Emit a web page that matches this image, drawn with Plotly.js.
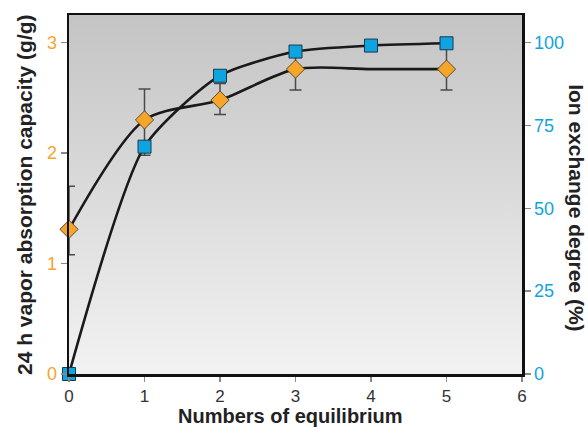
<!DOCTYPE html>
<html><head><meta charset="utf-8">
<script src="https://cdn.plot.ly/plotly-3.0.1.min.js"></script>
<style>html,body{margin:0;padding:0;background:#fff}#chart{width:588px;height:429px}</style>
</head><body><div id="chart"></div>
<script>
// Data
const cycles = [0, 1, 2, 3, 5];
const absorption = [1.31, 2.30, 2.48, 2.76, 2.76];      // g/g (left axis)
const absErrPlus = [0.39, 0.28, 0.15, 0.19, 0.19];
const absErrMinus = [0.23, 0.32, 0.13, 0.19, 0.19];
const curveCycles = [0, 1, 2, 3, 4, 5];
const absorptionCurve = [1.31, 2.30, 2.48, 2.76, 2.76, 2.76]; // fitted line through diamonds
const exchCycles = [0, 1, 2, 3, 4, 5];
const exchange = [0, 68.6, 90.0, 97.3, 99.1, 99.8];        // % (right axis)
const xTicks = [0, 1, 2, 3, 4, 5, 6];
const leftTicks = [0, 1, 2, 3];
const rightTicks = [0, 25, 50, 75, 100];

const orange = '#f5a52a', blue = '#0fa3e0';
const font = 'Liberation Sans, Arial, sans-serif';

const grad = 'data:image/svg+xml;utf8,' + encodeURIComponent(
 '<svg xmlns="http://www.w3.org/2000/svg" width="100" height="100" preserveAspectRatio="none"><defs><linearGradient id="g" x1="0" y1="0" x2="0" y2="1"><stop offset="0" stop-color="#c4c4c4"/><stop offset="1" stop-color="#f2f2f2"/></linearGradient></defs><rect width="100" height="100" fill="url(#g)"/></svg>');

const traces = [
 {x: exchCycles, y: exchange, yaxis: 'y2', type: 'scatter', mode: 'lines',
  line: {color: '#1a1a1a', width: 2.6, shape: 'spline', smoothing: 0.65}, cliponaxis: false, hoverinfo: 'skip'},
 {x: curveCycles, y: absorptionCurve, type: 'scatter', mode: 'lines',
  line: {color: '#1a1a1a', width: 2.6, shape: 'spline', smoothing: 0.8}, cliponaxis: false, hoverinfo: 'skip'},
 {x: cycles, y: absorption, type: 'scatter', mode: 'markers', cliponaxis: false,
  error_y: {type: 'data', array: absErrPlus, arrayminus: absErrMinus, symmetric: false, color: '#4a4a4a', thickness: 1.5, width: 6},
  marker: {symbol: 'diamond', size: 14, color: orange, line: {color: '#5a4a30', width: 1}}},
 {x: exchCycles, y: exchange, yaxis: 'y2', type: 'scatter', mode: 'markers', cliponaxis: false,
  marker: {symbol: 'square', size: 13, color: blue, line: {color: '#1a3a50', width: 1}}}
];

const layout = {
 width: 588, height: 429,
 margin: {l: 69, r: 66, t: 15, b: 55},
 paper_bgcolor: '#ffffff', plot_bgcolor: 'rgba(0,0,0,0)',
 showlegend: false,
 font: {family: font, color: '#222'},
 images: [{source: grad, xref: 'paper', yref: 'paper', x: 0, y: 1, sizex: 1, sizey: 1,
  sizing: 'stretch', xanchor: 'left', yanchor: 'top', layer: 'below'}],
 xaxis: {range: [0, 6], tickvals: xTicks, ticktext: xTicks.map(String), showgrid: false, zeroline: false,
  showline: true, linecolor: '#111', linewidth: 2.5, mirror: true,
  ticks: 'outside', ticklen: 5, tickcolor: '#888', tickwidth: 1.5,
  tickfont: {size: 17, color: '#333'}},
 yaxis: {range: [0, 3.25], tickvals: leftTicks, ticktext: leftTicks.map(String), showgrid: false, zeroline: false,
  showline: true, linecolor: '#111', linewidth: 2.5,
  ticks: 'outside', ticklen: 6, tickcolor: '#888', tickwidth: 1.5,
  tickfont: {size: 18, color: orange}},
 yaxis2: {range: [0, 108.33], tickvals: rightTicks, ticktext: rightTicks.map(String), overlaying: 'y', side: 'right',
  showgrid: false, zeroline: false, showline: true, linecolor: '#111', linewidth: 2.5,
  ticks: 'outside', ticklen: 6, tickcolor: '#888', tickwidth: 1.5,
  tickfont: {size: 18, color: blue}},
 annotations: [
  {text: '<b>Numbers of equilibrium</b>', xref: 'paper', yref: 'paper', x: 0.488, y: -0.1532,
   xanchor: 'center', yanchor: 'bottom', showarrow: false, font: {size: 20, color: '#222'}},
  {text: '<b>24 h vapor absorption capacity (g/g)</b>', xref: 'paper', yref: 'paper', x: -0.0993, y: 0.4986,
   xanchor: 'center', yanchor: 'middle', textangle: -90, showarrow: false, font: {size: 21, color: '#222'}},
  {text: '<b>Ion exchange degree (%)</b>', xref: 'paper', yref: 'paper', x: 1.1214, y: 0.462,
   xanchor: 'center', yanchor: 'middle', textangle: 90, showarrow: false, font: {size: 21, color: '#222'}}]
};

Plotly.newPlot('chart', traces, layout, {displayModeBar: false, staticPlot: true});
</script></body></html>
